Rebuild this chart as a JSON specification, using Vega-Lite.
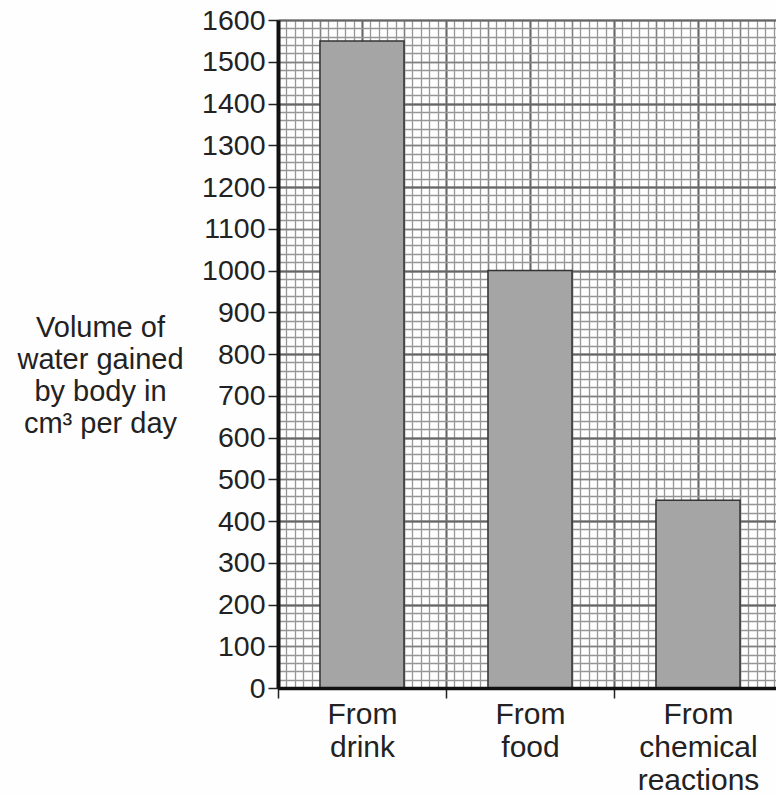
{
  "$schema": "https://vega.github.io/schema/vega-lite/v6.json",
  "width": 504,
  "height": 668,
  "autosize": {"type": "none"},
  "padding": {"left": 278, "top": 20, "right": 0, "bottom": 107},
  "background": "#fefefe",
  "config": {
    "view": {"stroke": null},
    "font": "Liberation Sans",
    "axis": {"labelFont": "Liberation Sans", "titleFont": "Liberation Sans"}
  },
  "data": {
    "values": [
      {"source": "From drink", "value": 1550},
      {"source": "From food", "value": 1000},
      {"source": "From chemical reactions", "value": 450}
    ]
  },
  "layer": [
    {
      "mark": {"type": "point", "opacity": 0},
      "encoding": {
        "x": {"datum": 0, "type": "quantitative", "scale": {"domain": [0, 60], "nice": false, "zero": false},
          "axis": {"orient": "bottom", "tickCount": 60, "grid": true, "gridColor": "#969696", "gridWidth": 1.3, "gridOpacity": 1, "labels": false, "ticks": false, "domain": false, "title": null, "zindex": 0}},
        "y": {"datum": 0, "type": "quantitative", "scale": {"domain": [0, 1600], "nice": false, "zero": false},
          "axis": {"orient": "left", "tickCount": 80, "grid": true, "gridColor": "#969696", "gridWidth": 1.3, "gridOpacity": 1, "labels": false, "ticks": false, "domain": false, "title": null, "zindex": 0}}
      }
    },
    {
      "mark": {"type": "point", "opacity": 0},
      "encoding": {
        "x": {"datum": 0, "type": "quantitative", "scale": {"domain": [0, 60], "nice": false, "zero": false},
          "axis": {"orient": "bottom", "tickCount": 12, "grid": true, "gridColor": "#808080", "gridWidth": 1.4, "gridOpacity": 1, "labels": false, "ticks": false, "domain": false, "title": null, "zindex": 0}},
        "y": {"datum": 0, "type": "quantitative", "scale": {"domain": [0, 1600], "nice": false, "zero": false},
          "axis": {"orient": "left", "tickCount": 16, "grid": true, "gridColor": "#808080", "gridWidth": 1.4, "gridOpacity": 1, "labels": false, "ticks": false, "domain": false, "title": null, "zindex": 0}}
      }
    },
    {
      "mark": {"type": "point", "opacity": 0},
      "encoding": {
        "x": {"datum": 0, "type": "quantitative", "scale": {"domain": [0, 60], "nice": false, "zero": false},
          "axis": {"orient": "bottom", "tickCount": 6, "grid": true, "gridColor": "#666666", "gridWidth": 1.8, "gridOpacity": 1, "labels": false, "ticks": false, "domain": false, "title": null, "zindex": 0}},
        "y": {"datum": 0, "type": "quantitative", "scale": {"domain": [0, 1600], "nice": false, "zero": false},
          "axis": {"orient": "left", "tickCount": 8, "grid": true, "gridColor": "#666666", "gridWidth": 1.8, "gridOpacity": 1, "labels": false, "ticks": false, "domain": false, "title": null, "zindex": 0}}
      }
    },
    {
      "mark": {"type": "bar", "fill": "#a5a5a5", "stroke": "#333333", "strokeWidth": 1.5},
      "encoding": {
        "x": {"field": "source", "type": "nominal", "sort": null,
          "scale": {"paddingInner": 0.5, "paddingOuter": 0.25},
          "axis": {"orient": "bottom", "title": null, "labelAngle": 0, "tickOffset": -84, "labelOffset": 84, "labelExpr": "split(datum.label, ' ')",
            "labelFontSize": 30, "labelColor": "#222222", "labelLineHeight": 33, "labelPadding": 1, "labelBaseline": "top",
            "tickSize": 10, "tickWidth": 1.5, "tickColor": "#222222",
            "domainWidth": 3.5, "domainColor": "#111111", "grid": false, "zindex": 1}},
        "y": {"field": "value", "type": "quantitative", "scale": {"domain": [0, 1600], "nice": false},
          "axis": {"orient": "left", "values": [0, 100, 200, 300, 400, 500, 600, 700, 800, 900, 1000, 1100, 1200, 1300, 1400, 1500, 1600],
            "format": "d", "grid": false, "labelFontSize": 28.5, "labelColor": "#222222", "labelPadding": 3,
            "tickSize": 10, "tickWidth": 1.5, "tickColor": "#222222",
            "domainWidth": 4, "domainColor": "#111111", "zindex": 1,
            "title": ["Volume of", "water gained", "by body in", "cm³ per day"],
            "titleAngle": 0, "titleAlign": "center", "titleBaseline": "middle", "titleX": -178, "titleY": 307,
            "titleFontSize": 29, "titleFontWeight": "normal", "titleColor": "#222222", "titleLineHeight": 32}}
      }
    }
  ],
  "resolve": {
    "scale": {"x": "independent", "y": "independent"},
    "axis": {"x": "independent", "y": "independent"}
  }
}
